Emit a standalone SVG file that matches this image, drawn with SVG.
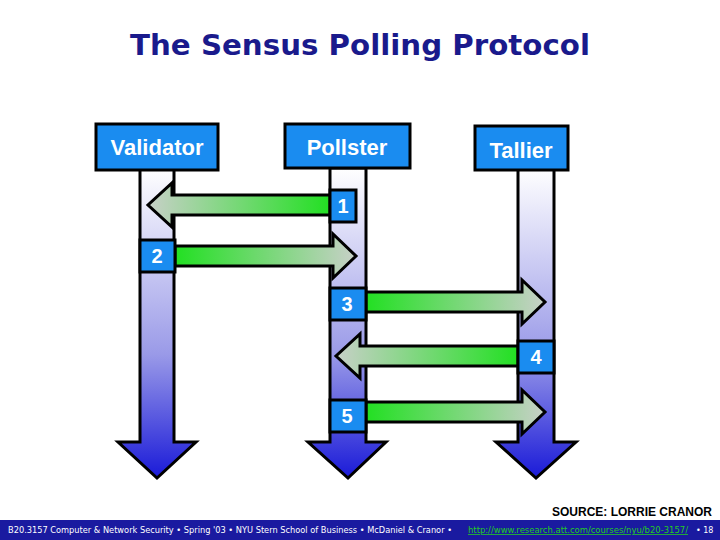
<svg xmlns="http://www.w3.org/2000/svg" width="720" height="540" viewBox="0 0 720 540">
<defs>
<linearGradient id="vg" x1="0" y1="0" x2="0" y2="1"><stop offset="0" stop-color="#ffffff"/><stop offset="0.6" stop-color="#9a9ae8"/><stop offset="1" stop-color="#1a1ad8"/></linearGradient>
<linearGradient id="gl" x1="0" y1="0" x2="1" y2="0"><stop offset="0" stop-color="#c8d0c8"/><stop offset="1" stop-color="#22e022"/></linearGradient>
<linearGradient id="gr" x1="0" y1="0" x2="1" y2="0"><stop offset="0" stop-color="#22e022"/><stop offset="1" stop-color="#c8d0c8"/></linearGradient>
</defs>
<style>
.box{fill:#1a8cf0;stroke:#000;stroke-width:3}
.lbl{font-family:"Liberation Sans",Arial,sans-serif;font-weight:bold;font-size:22px;fill:#fff;text-anchor:middle}
.num{font-family:"Liberation Sans",Arial,sans-serif;font-weight:bold;font-size:20px;fill:#fff;text-anchor:middle}
.v{fill:url(#vg);stroke:#000;stroke-width:3}
.ha{stroke:#000;stroke-width:3}
.ft{font-family:"DejaVu Sans",sans-serif;font-size:8px;fill:#fff}
</style>
<rect width="720" height="540" fill="#fff"/>
<text x="360" y="55" font-family="'DejaVu Sans',sans-serif" font-weight="bold" font-size="29" fill="#1a1a8c" text-anchor="middle" textLength="460" lengthAdjust="spacingAndGlyphs">The Sensus Polling Protocol</text>
<g id="lifelines">
<path class="v" d="M140 168 H174 V442 H196 L157 478 L118 442 H140 Z"/>
<path class="v" d="M330 168 H366 V442 H386 L348 478 L308 442 H330 Z"/>
<path class="v" d="M518 168 H554 V442 H576 L536 478 L496 442 H518 Z"/>
</g>
<g id="connectors">
<path class="ha" fill="url(#gl)" d="M330 195 H172 V183 L148 205 L172 227 V215 H330 Z"/>
<path class="ha" fill="url(#gr)" d="M175 246 H333 V234 L356 256 L333 278 V266 H175 Z"/>
<path class="ha" fill="url(#gr)" d="M366 292 H522 V280 L545 302 L522 324 V312 H366 Z"/>
<path class="ha" fill="url(#gl)" d="M518 346 H360 V334 L336 356 L360 378 V366 H518 Z"/>
<path class="ha" fill="url(#gr)" d="M366 402 H522 V390 L545 412 L522 434 V422 H366 Z"/>
</g>
<g id="validator"><rect class="box" x="96" y="124" width="122" height="46"/><text class="lbl" x="157" y="155">Validator</text></g>
<g id="pollster"><rect class="box" x="285" y="124" width="125" height="44"/><text class="lbl" x="347" y="155">Pollster</text></g>
<g id="tallier"><rect class="box" x="475" y="126" width="93" height="44"/><text class="lbl" x="521" y="158">Tallier</text></g>
<g id="n1"><rect class="box" x="330" y="190" width="26" height="32"/><text class="num" x="343" y="213">1</text></g>
<g id="n2"><rect class="box" x="140" y="240" width="35" height="32"/><text class="num" x="157" y="263">2</text></g>
<g id="n3"><rect class="box" x="330" y="288" width="36" height="32"/><text class="num" x="347" y="311">3</text></g>
<g id="n4"><rect class="box" x="518" y="341" width="36" height="32"/><text class="num" x="536" y="364">4</text></g>
<g id="n5"><rect class="box" x="330" y="400" width="36" height="32"/><text class="num" x="347" y="423">5</text></g>
<text x="712" y="516" font-family="'Liberation Sans',Arial,sans-serif" font-weight="bold" font-size="12" text-anchor="end">SOURCE: LORRIE CRANOR</text>
<rect x="0" y="520" width="720" height="20" fill="#1a1aa0"/>
<text class="ft" x="8" y="533" textLength="444" lengthAdjust="spacingAndGlyphs">B20.3157 Computer &amp; Network Security • Spring '03 • NYU Stern School of Business • McDaniel &amp; Cranor •</text>
<text class="ft" x="468" y="533" style="fill:#22cc22" text-decoration="underline" textLength="220" lengthAdjust="spacingAndGlyphs">http://www.research.att.com/courses/nyu/b20-3157/</text>
<text class="ft" x="696" y="533">• 18</text>
</svg>
